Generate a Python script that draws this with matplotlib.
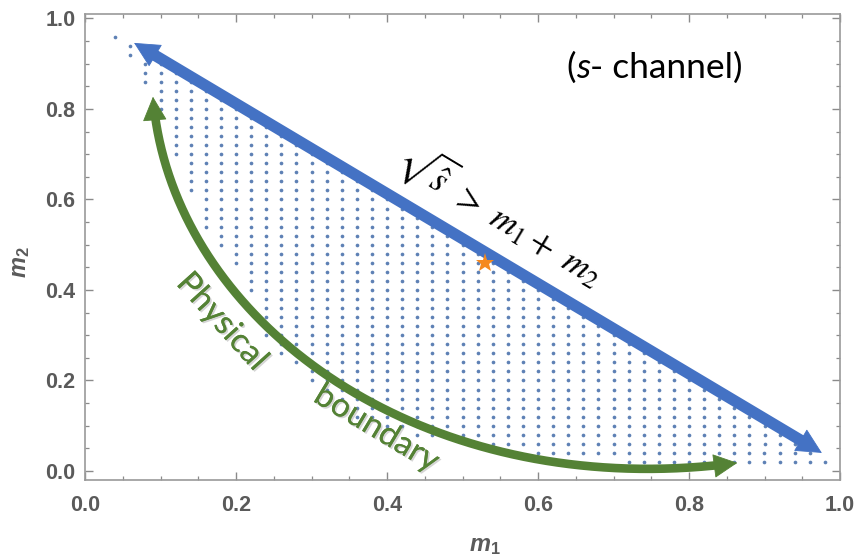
import numpy as np
import matplotlib
matplotlib.use("Agg")
import matplotlib.pyplot as plt
from matplotlib.patches import FancyArrowPatch
from matplotlib.path import Path
from matplotlib.ticker import MultipleLocator
from matplotlib import transforms
import matplotlib.patheffects as pe

plt.rcParams["mathtext.fontset"] = "custom"
plt.rcParams["mathtext.rm"] = "Liberation Sans:bold"
plt.rcParams["mathtext.it"] = "Liberation Sans:bold:italic"

# Scan grid rows (m2) and the smallest m1 allowed on each row (physical boundary)
m2_rows = [0.96, 0.94, 0.92, 0.90, 0.88, 0.86, 0.84, 0.82, 0.80, 0.78, 0.76, 0.74,
           0.72, 0.70, 0.68, 0.66, 0.64, 0.62, 0.60, 0.58, 0.56, 0.54, 0.52, 0.50,
           0.48, 0.46, 0.44, 0.42, 0.40, 0.38, 0.36, 0.34, 0.32, 0.30, 0.28, 0.26,
           0.24, 0.22, 0.20, 0.18, 0.16, 0.14, 0.12, 0.10, 0.08, 0.06, 0.04, 0.02]
m1_row_start = [0.04, 0.06, 0.06, 0.08, 0.08, 0.08, 0.10, 0.10, 0.10, 0.12, 0.12, 0.12,
                0.12, 0.12, 0.14, 0.14, 0.14, 0.14, 0.16, 0.16, 0.16, 0.16, 0.18, 0.18,
                0.20, 0.20, 0.22, 0.22, 0.22, 0.24, 0.24, 0.24, 0.24, 0.24, 0.26, 0.26,
                0.28, 0.30, 0.30, 0.32, 0.34, 0.36, 0.36, 0.40, 0.44, 0.52, 0.60, 0.72]
grid_step = 0.02
sqrt_s = 1.0  # kinematic limit m1 + m2 <= sqrt(s)

# Benchmark point
star_m1, star_m2 = 0.53, 0.46

x_ticks = [0.0, 0.2, 0.4, 0.6, 0.8, 1.0]
y_ticks = [0.0, 0.2, 0.4, 0.6, 0.8, 1.0]

# Build the allowed grid points
pts_m1, pts_m2 = [], []
for m2, start in zip(m2_rows, m1_row_start):
    n = int(round((sqrt_s - m2 - start) / grid_step)) + 1
    for k in range(n):
        pts_m1.append(start + k * grid_step)
        pts_m2.append(m2)

fig = plt.figure(figsize=(8.57, 5.59), dpi=100)
ax = fig.add_axes([85 / 857, 1 - 480 / 559, 755 / 857, (480 - 13.5) / 559])
ax.set_xlim(0.0, 1.0)
ax.set_ylim(-0.0199, 1.011)

ax.scatter(pts_m1, pts_m2, s=7, color="#5e81b5", linewidths=0, zorder=2)

# Frame and ticks
for sp in ax.spines.values():
    sp.set_color("#9a9a9a")
    sp.set_linewidth(1.2)
ax.set_xticks(x_ticks)
ax.set_yticks(y_ticks)
ax.set_xticklabels([f"{v:.1f}" for v in x_ticks])
ax.set_yticklabels([f"{v:.1f}" for v in y_ticks])
ax.xaxis.set_minor_locator(MultipleLocator(0.05))
ax.yaxis.set_minor_locator(MultipleLocator(0.05))
ax.tick_params(which="both", direction="in", top=True, right=True, color="#8a8a8a")
ax.tick_params(which="major", length=5.5, width=1.0)
ax.tick_params(which="minor", length=3.2, width=0.9)
ax.tick_params(axis="x", which="major", pad=11)
ax.tick_params(axis="y", which="major", pad=7)
for lab in ax.get_xticklabels() + ax.get_yticklabels():
    lab.set_fontfamily("Liberation Sans")
    lab.set_fontweight("bold")
    lab.set_fontsize(15.5)
    lab.set_color("#5a5a5a")

fig.text(485 / 857, 1 - 545 / 559, r"$m_1$", fontsize=17, color="#5a5a5a",
         ha="center", va="center")
fig.text(20 / 857, 1 - 262 / 559, r"$m_2$", fontsize=17, color="#5a5a5a",
         ha="center", va="center", rotation=90)

fig.canvas.draw()


def double_arrow(ctrl, color, lw, head_len, head_w):
    """Thick double-headed arrow along a straight line or cubic Bezier (data coords)."""
    ctrl = np.asarray(ctrl, dtype=float)
    t = np.linspace(0, 1, 600)[:, None]
    if len(ctrl) == 2:
        curve = (1 - t) * ctrl[0] + t * ctrl[1]
        codes = [Path.MOVETO, Path.LINETO]
    else:
        curve = ((1 - t) ** 3 * ctrl[0] + 3 * (1 - t) ** 2 * t * ctrl[1]
                 + 3 * (1 - t) * t ** 2 * ctrl[2] + t ** 3 * ctrl[3])
        codes = [Path.MOVETO, Path.CURVE4, Path.CURVE4, Path.CURVE4]
    disp = ax.transData.transform(curve)
    s = np.concatenate([[0], np.cumsum(np.hypot(*np.diff(disp, axis=0).T))])
    cut = head_len * fig.dpi / 72 * 0.8
    keep = (s > cut) & (s < s[-1] - cut)
    ax.plot(curve[keep, 0], curve[keep, 1], color=color, lw=lw,
            solid_capstyle="butt", clip_on=False, zorder=4)
    heads = FancyArrowPatch(path=Path(ctrl, codes),
                            arrowstyle=f"<|-|>,head_length={head_len},head_width={head_w}",
                            color=color, lw=0.6, mutation_scale=1, clip_on=False, zorder=4)
    ax.add_patch(heads)


# sqrt(s) > m1 + m2 line
double_arrow([(0.065, 0.946), (0.976, 0.040)], "#4472c4", 8.2, 17, 8.5)
# physical boundary
double_arrow([(0.090, 0.827), (0.113, 0.334), (0.444, -0.075), (0.864, 0.018)],
             "#548235", 6.2, 16, 8)

ax.plot([star_m1], [star_m2], marker="*", markersize=14, color="#f5891f",
        markeredgewidth=0, zorder=5)

ax.text(0.551, 0.568, r"$\sqrt{\hat{s}}\ >\ m_1 +\ m_2$", math_fontfamily="stix",
        fontsize=26, rotation=-31, rotation_mode="anchor", ha="center", va="center",
        color="black", zorder=6)

shadow = [pe.withSimplePatchShadow(offset=(1.2, -1.2), shadow_rgbFace="#888888", alpha=0.35),
          pe.Normal()]
ax.text(0.181, 0.329, "Physical", fontfamily="Lato", fontsize=24, color="#548235",
        rotation=-48, rotation_mode="anchor", ha="center", va="center",
        path_effects=shadow, zorder=6)
ax.text(0.386, 0.093, "boundary", fontfamily="Lato", fontsize=24, color="#548235",
        rotation=-31, rotation_mode="anchor", ha="center", va="center",
        path_effects=shadow, zorder=6)

# "(s- channel)" with an italic s
renderer = fig.canvas.get_renderer()
x0, y0 = 0.638, 0.868
fs = 25.5
pieces = [("(", "normal"), ("s", "italic"), ("- channel)", "normal")]
offset = 0.0
for txt, style in pieces:
    tr = transforms.offset_copy(ax.transData, fig=fig, x=offset, y=0, units="points")
    t = ax.text(x0, y0, txt, fontfamily="Lato", fontstyle=style, fontsize=fs,
                ha="left", va="baseline", transform=tr, zorder=6)
    offset += t.get_window_extent(renderer).width * 72 / fig.dpi

fig.savefig("out.png", dpi=100)
